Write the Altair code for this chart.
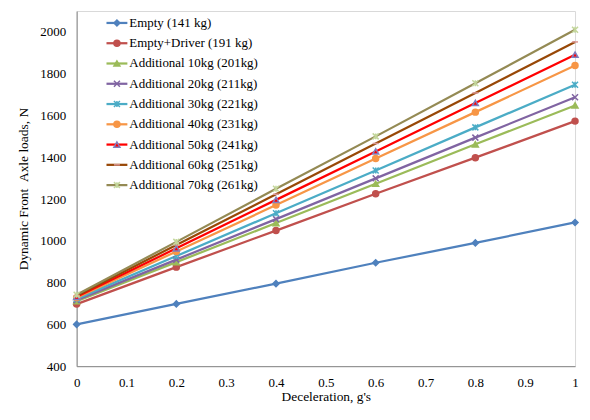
import altair as alt
import pandas as pd

decel = [0, 0.2, 0.4, 0.6, 0.8, 1.0]
series_names = [
    "Empty (141 kg)",
    "Empty+Driver (191 kg)",
    "Additional 10kg (201kg)",
    "Additional 20kg (211kg)",
    "Additional 30kg (221kg)",
    "Additional 40kg (231kg)",
    "Additional 50kg (241kg)",
    "Additional 60kg (251kg)",
    "Additional 70kg (261kg)",
]
empty = [600, 698, 795, 895, 990, 1088]
driver = [697, 874, 1049, 1225, 1398, 1573]
add10 = [711, 898, 1085, 1273, 1462, 1648]
add20 = [716, 910, 1104, 1299, 1494, 1687]
add30 = [722, 927, 1132, 1337, 1543, 1747]
add40 = [727, 949, 1171, 1394, 1616, 1839]
add50 = [732, 964, 1196, 1428, 1660, 1891]
add60 = [737, 980, 1223, 1466, 1708, 1952]
add70 = [742, 995, 1249, 1500, 1754, 2010]
all_values = [empty, driver, add10, add20, add30, add40, add50, add60, add70]

y_ticks = [400, 600, 800, 1000, 1200, 1400, 1600, 1800, 2000]
x_ticks = [0, 0.1, 0.2, 0.3, 0.4, 0.5, 0.6, 0.7, 0.8, 0.9, 1.0]

line_colors = ["#4F81BD", "#C0504D", "#9BBB59", "#8064A2", "#4BACC6",
               "#F79646", "#FF0000", "#984807", "#948A54"]
fill_colors = ["#4F81BD", "#C0504D", "#9BBB59", "transparent", "transparent",
               "#F79646", "#FF0000", "transparent", "transparent"]
stroke_colors = ["#4F81BD", "#C0504D", "#9BBB59", "#8064A2", "#4BACC6",
                 "#F79646", "#7F7FBF", "#D99694", "#C3D69B"]
shapes = ["diamond", "circle", "triangle-up",
          "M-1,-1L1,1M-1,1L1,-1",
          "M-1,-1L1,1M-1,1L1,-1M0,-1L0,1",
          "circle", "triangle-up",
          "M-1,0L1,0",
          "M-1,-1L1,1M-1,1L1,-1M0,-1L0,1"]

rows = []
for name, vals in zip(series_names, all_values):
    for d, v in zip(decel, vals):
        rows.append({"series": name, "decel": d, "load": v})
df = pd.DataFrame(rows)

legend_df = pd.DataFrame({"series": series_names, "idx": list(range(len(series_names)))})

FONT = "Liberation Serif"
color_scale = alt.Scale(domain=series_names, range=line_colors)
fill_scale = alt.Scale(domain=series_names, range=fill_colors)
stroke_scale = alt.Scale(domain=series_names, range=stroke_colors)
shape_scale = alt.Scale(domain=series_names, range=shapes)

x_enc = alt.X("decel:Q", title="Deceleration, g's",
              scale=alt.Scale(domain=[0, 1], nice=False),
              axis=alt.Axis(values=x_ticks, format="~g", grid=False, ticks=False,
                            tickSize=0, labelPadding=10, titlePadding=1,
                            domainColor="#868686", labelFlush=False))
y_enc = alt.Y("load:Q", title="Dynamic Front \u00a0Axle loads, N",
              scale=alt.Scale(domain=[400, 2100], nice=False),
              axis=alt.Axis(values=y_ticks, format="d", grid=False, ticks=False, tickSize=0,
                            labelPadding=11, titlePadding=9,
                            domainColor="#868686"))

lines = alt.Chart(df).mark_line(strokeWidth=2.25).encode(
    x=x_enc, y=y_enc,
    color=alt.Color("series:N", scale=color_scale, legend=None),
    detail="series:N",
)
points = alt.Chart(df).mark_point(size=36, strokeWidth=1.5, opacity=1).encode(
    x=x_enc, y=y_enc,
    fill=alt.Fill("series:N", scale=fill_scale, legend=None),
    stroke=alt.Stroke("series:N", scale=stroke_scale, legend=None),
    shape=alt.Shape("series:N", scale=shape_scale, legend=None),
)

leg_y = alt.Y("idx:Q", scale=alt.Scale(domain=[0, 8], range=[12, 175]), axis=None)
leg_rule = alt.Chart(legend_df).mark_rule(strokeWidth=2.25).encode(
    x=alt.value(30), x2=alt.value(51), y=leg_y,
    color=alt.Color("series:N", scale=color_scale, legend=None),
)
leg_pt = alt.Chart(legend_df).mark_point(size=36, strokeWidth=1.5, opacity=1).encode(
    x=alt.value(40.5), y=leg_y,
    fill=alt.Fill("series:N", scale=fill_scale, legend=None),
    stroke=alt.Stroke("series:N", scale=stroke_scale, legend=None),
    shape=alt.Shape("series:N", scale=shape_scale, legend=None),
)
leg_text = alt.Chart(legend_df).mark_text(align="left", baseline="middle", font=FONT,
                                          fontSize=13, color="#000000").encode(
    x=alt.value(53), y=leg_y, text="series:N",
)

main = alt.layer(lines, points)
legend = alt.layer(leg_rule, leg_pt, leg_text)

chart = alt.layer(main, legend).resolve_scale(y="independent").properties(
    width=501, height=357, background="white",
    padding={"left": 9, "top": 2, "right": 1, "bottom": 0},
).configure_view(
    stroke="#D9D9D9", strokeWidth=1
).configure_axis(
    labelFont=FONT, titleFont=FONT, labelFontSize=13, titleFontSize=13.5,
    titleFontWeight="normal", labelColor="#000000", titleColor="#000000",
    domainWidth=1,
).configure_text(font=FONT).configure_mark(font=FONT)

chart.save("out.html", embed_options={"renderer": "svg", "actions": False})
